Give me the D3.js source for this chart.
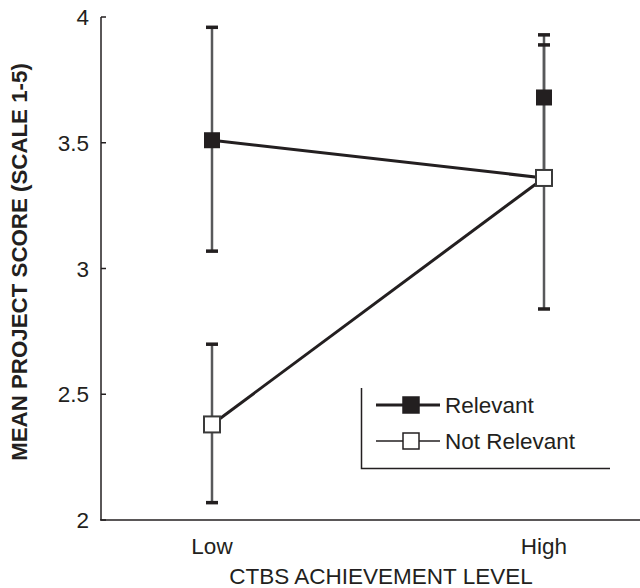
<!DOCTYPE html>
<html>
<head>
<meta charset="utf-8">
<script src="https://cdn.jsdelivr.net/npm/d3@7"></script>
<style>
  body { margin: 0; background: #fff; }
  text { font-family: "Liberation Sans", Arial, sans-serif; fill: #231f20; }
</style>
</head>
<body>
<div id="chart"></div>
<script>
const levels = ['Low', 'High'];
const yTicks = [2, 2.5, 3, 3.5, 4];

// group means and error bar ends
const relevantMean = [3.51, 3.68];
const relevantLow = [3.07, 3.38];
const relevantHigh = [3.96, 3.93];
const notRelevantMean = [2.38, 3.36];
const notRelevantLow = [2.07, 2.84];
const notRelevantHigh = [2.70, 3.89];
// the printed figure draws the Relevant line into the Not Relevant High point
const relevantLine = [3.51, 3.36];

const width = 640, height = 588;
const ink = '#231f20';

const svg = d3.select('#chart').append('svg')
  .attr('width', width)
  .attr('height', height);

const x = d3.scalePoint().domain(levels).range([212, 544]);
const y = d3.scaleLinear().domain([2, 4]).range([520, 17]);

// axes
svg.append('line')
  .attr('x1', 101).attr('x2', 101)
  .attr('y1', y(4)).attr('y2', y(2))
  .attr('stroke', ink).attr('stroke-width', 1.5);
svg.append('line')
  .attr('x1', 100).attr('x2', width)
  .attr('y1', y(2)).attr('y2', y(2))
  .attr('stroke', ink).attr('stroke-width', 1.5);

svg.selectAll('.ytick')
  .data(yTicks)
  .enter().append('line')
  .attr('x1', 101).attr('x2', 106)
  .attr('y1', d => y(d)).attr('y2', d => y(d))
  .attr('stroke', ink).attr('stroke-width', 1.5);

svg.selectAll('.ylabel')
  .data(yTicks)
  .enter().append('text')
  .attr('x', 89)
  .attr('y', d => y(d) + 8)
  .attr('text-anchor', 'end')
  .style('font-size', '22.5px')
  .text(d => d);

svg.selectAll('.xlabel')
  .data(levels)
  .enter().append('text')
  .attr('x', d => x(d))
  .attr('y', 554)
  .attr('text-anchor', 'middle')
  .style('font-size', '22.5px')
  .text(d => d);

svg.append('text')
  .attr('x', 381).attr('y', 584)
  .attr('text-anchor', 'middle')
  .style('font-size', '22.5px')
  .text('CTBS ACHIEVEMENT LEVEL');

svg.append('text')
  .attr('transform', 'translate(27,262) rotate(-90)')
  .attr('text-anchor', 'middle')
  .style('font-size', '22.3px')
  .style('font-weight', 'bold')
  .text('MEAN PROJECT SCORE (SCALE 1-5)');

// error bars
function errorBars(lo, hi) {
  const g = svg.append('g');
  levels.forEach((lv, i) => {
    g.append('line')
      .attr('x1', x(lv)).attr('x2', x(lv))
      .attr('y1', y(lo[i])).attr('y2', y(hi[i]))
      .attr('stroke', '#58595b').attr('stroke-width', 2.5);
    [lo[i], hi[i]].forEach(v => {
      g.append('rect')
        .attr('x', x(lv) - 6).attr('y', y(v) - 1.5)
        .attr('width', 12).attr('height', 3.5)
        .attr('fill', ink);
    });
  });
}
errorBars(relevantLow, relevantHigh);
errorBars(notRelevantLow, notRelevantHigh);

// lines
const line = d3.line().x((d, i) => x(levels[i])).y(d => y(d));
svg.append('path')
  .attr('d', line(relevantLine))
  .attr('fill', 'none').attr('stroke', ink).attr('stroke-width', 3);
svg.append('path')
  .attr('d', line(notRelevantMean))
  .attr('fill', 'none').attr('stroke', ink).attr('stroke-width', 3);

// markers
const sz = 16;
svg.selectAll('.rel')
  .data(relevantMean)
  .enter().append('rect')
  .attr('x', (d, i) => x(levels[i]) - sz / 2)
  .attr('y', d => y(d) - sz / 2)
  .attr('width', sz).attr('height', sz)
  .attr('fill', ink);
svg.selectAll('.notrel')
  .data(notRelevantMean)
  .enter().append('rect')
  .attr('x', (d, i) => x(levels[i]) - sz / 2)
  .attr('y', d => y(d) - sz / 2)
  .attr('width', sz).attr('height', sz)
  .attr('fill', '#fff').attr('stroke', '#3a3a3a').attr('stroke-width', 2);

// legend
const lg = svg.append('g');
lg.append('path')
  .attr('d', 'M361.5,388V468.5H610')
  .attr('fill', 'none').attr('stroke', ink).attr('stroke-width', 1.5);

const legendItems = [
  { name: 'Relevant', y: 405, w: 3, fill: ink },
  { name: 'Not Relevant', y: 441, w: 1.5, fill: '#fff' }
];
legendItems.forEach(it => {
  lg.append('line')
    .attr('x1', 376).attr('x2', 440)
    .attr('y1', it.y).attr('y2', it.y)
    .attr('stroke', ink).attr('stroke-width', it.w);
  lg.append('rect')
    .attr('x', 403).attr('y', it.y - 8)
    .attr('width', 16).attr('height', 16)
    .attr('fill', it.fill).attr('stroke', ink).attr('stroke-width', 1.5);
  lg.append('text')
    .attr('x', 445).attr('y', it.y + 8)
    .style('font-size', '22.5px')
    .text(it.name);
});
</script>
</body>
</html>
